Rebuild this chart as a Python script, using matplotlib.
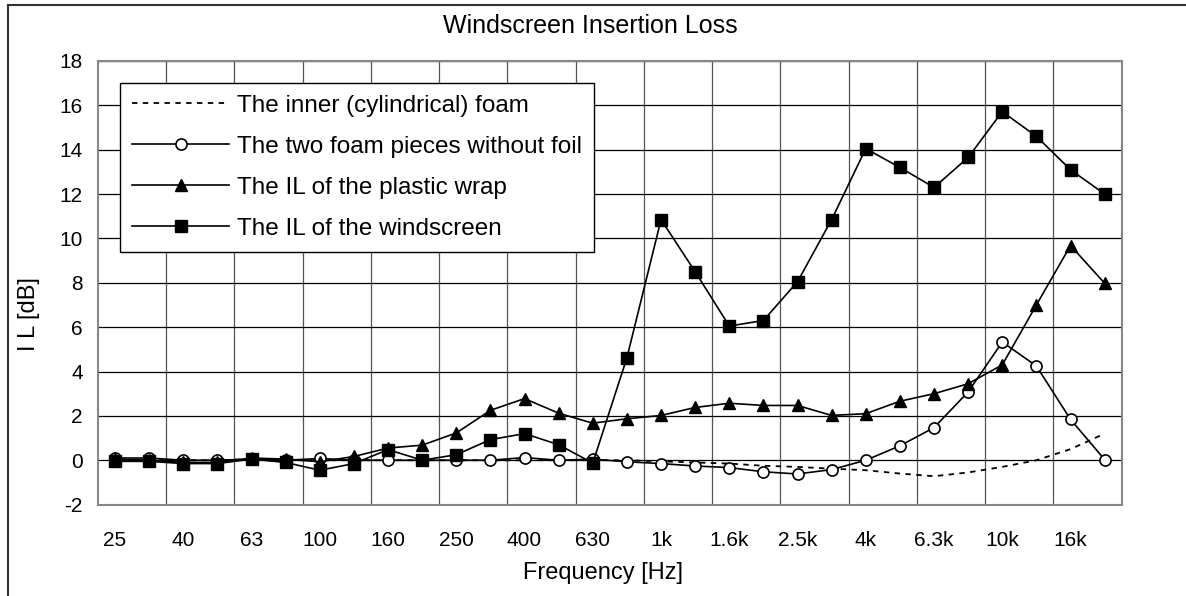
import matplotlib.pyplot as plt
from matplotlib.lines import Line2D

plt.rcParams['font.family'] = ['Liberation Sans', 'DejaVu Sans']
plt.rcParams['axes.unicode_minus'] = False

bands = ["25", "31.5", "40", "50", "63", "80", "100", "125", "160", "200",
         "250", "315", "400", "500", "630", "800", "1k", "1.25k", "1.6k", "2k",
         "2.5k", "3.15k", "4k", "5k", "6.3k", "8k", "10k", "12.5k", "16k", "20k"]

inner_foam = [0.0, 0.0, 0.0, 0.0, 0.05, 0.0, 0.0, 0.0, 0.0, 0.0,
              0.0, 0.0, 0.0, 0.0, 0.0, 0.0, -0.05, -0.1, -0.15, -0.25,
              -0.3, -0.38, -0.45, -0.6, -0.72, -0.55, -0.3, 0.0, 0.5, 1.2]

two_pieces = [0.1, 0.1, 0.0, 0.0, 0.05, 0.0, 0.08, 0.0, 0.0, 0.0,
              0.0, 0.0, 0.12, 0.0, 0.05, -0.07, -0.15, -0.26, -0.33, -0.52,
              -0.62, -0.42, 0.0, 0.65, 1.47, 3.08, 5.33, 4.25, 1.84, 0.03]

plastic_wrap = [0.05, 0.0, -0.1, -0.1, 0.1, 0.05, -0.07, 0.17, 0.55, 0.68,
                1.23, 2.25, 2.78, 2.12, 1.67, 1.87, 2.02, 2.38, 2.57, 2.47,
                2.47, 2.02, 2.1, 2.66, 3.0, 3.45, 4.3, 7.0, 9.68, 7.98]

windscreen = [-0.05, -0.05, -0.15, -0.15, 0.05, -0.1, -0.45, -0.15, 0.48, 0.0,
              0.25, 0.93, 1.2, 0.7, -0.13, 4.62, 10.85, 8.5, 6.05, 6.3,
              8.05, 10.85, 14.05, 13.2, 12.3, 13.65, 15.72, 14.6, 13.1, 12.0]

x = list(range(len(bands)))

fig = plt.figure(figsize=(11.86, 5.96), dpi=100)
ax = fig.add_axes([98 / 1186, 1 - 504.6 / 596, 1023.7 / 1186, 443.6 / 596])

ax.plot(x, inner_foam, color='black', lw=1.3, ls=(0, (3, 3)),
        label='The inner (cylindrical) foam')
ax.plot(x, two_pieces, color='black', lw=1.2, marker='o', ms=8,
        mfc='white', mec='black', mew=1.2,
        label='The two foam pieces without foil')
ax.plot(x, plastic_wrap, color='black', lw=1.2, marker='^', ms=9,
        label='The IL of the plastic wrap')
ax.plot(x, windscreen, color='black', lw=1.2, marker='s', ms=8,
        label='The IL of the windscreen')

ax.set_xlim(-0.5, len(bands) - 0.5)
ax.set_ylim(-2, 18)
ax.set_yticks(range(-2, 19, 2))
ax.set_xticks(x[::2])
ax.set_xticklabels(bands[::2])
ax.set_xticks([i + 1.5 for i in range(0, len(bands) - 2, 2)], minor=True)
ax.tick_params(axis='x', which='both', length=0, pad=19, labelsize=15)
ax.tick_params(axis='y', length=0, pad=11, labelsize=15)

ax.grid(True, axis='y', color='black', lw=0.9)
ax.grid(True, axis='x', which='minor', color='#555555', lw=0.9)
ax.set_axisbelow(True)
for s in ax.spines.values():
    s.set_color('#888888')
    s.set_linewidth(1.5)

ax.set_xlabel('Frequency [Hz]', fontsize=17)
ax.xaxis.set_label_coords((603 - 98) / 1023.7, -0.13)
fig.text(29 / 1186, 1 - 314 / 596, 'I L [dB]', rotation=90,
         ha='center', va='center', fontsize=17)
fig.text(590 / 1186, 1 - 26 / 596, 'Windscreen Insertion Loss',
         ha='center', va='center', fontsize=18)

leg = ax.legend(loc='upper left', bbox_to_anchor=(0.0215, 0.951),
                borderaxespad=0, fontsize=17.5, fancybox=False,
                framealpha=1, edgecolor='black', handlelength=4.0,
                handletextpad=0.3, labelspacing=0.78, borderpad=0.5)
leg.get_frame().set_linewidth(1.0)

fig.add_artist(Line2D([8 / 1186, 8 / 1186], [0, 1 - 5 / 596],
                      color='#333333', lw=1.5))
fig.add_artist(Line2D([8 / 1186, 1], [1 - 5 / 596, 1 - 5 / 596],
                      color='#333333', lw=1.5))

fig.savefig('out.png', dpi=100)
